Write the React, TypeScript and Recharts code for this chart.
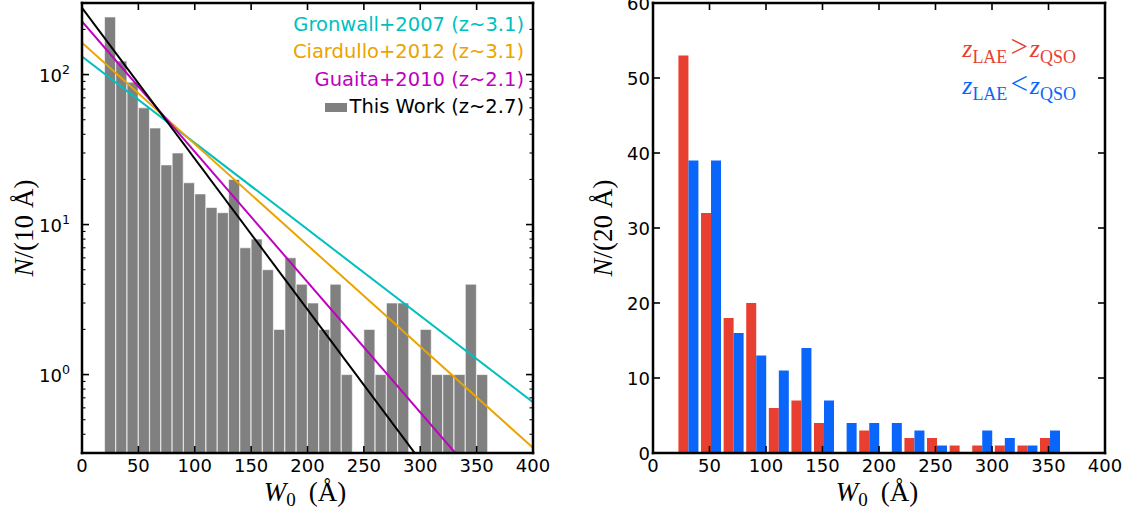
import React from 'react';
import { ComposedChart, Bar, Line, XAxis, YAxis, Legend } from 'recharts';

// ---------- Left panel data ----------
const binCenters10 = [25, 35, 45, 55, 65, 75, 85, 95, 105, 115, 125, 135, 145, 155, 165, 175, 185, 195, 205, 215, 225, 235, 245, 255, 265, 275, 285, 295, 305, 315, 325, 335, 345, 355];
const thisWorkCounts = [242, 123, 89, 60, 44, 25, 30, 19, 16, 13, 12, 20, 7, 8, 5, 2, 6, 4, 3, 2, 4, 1, 0, 2, 1, 3, 3, 0, 2, 1, 1, 1, 4, 1];
const lineEnds = [0, 400];
const gronwallLine = [132, 0.654];
const ciardulloLine = [163, 0.325];
const guaitaLine = [226, 0.0757];
const thisWorkFit = [279, 0.0264];

const legendNames = ['Gronwall+2007 (z~3.1)', 'Ciardullo+2012 (z~3.1)', 'Guaita+2010 (z~2.1)'];
const legendColors = ['#00bfbf', '#eaa400', '#bf00bf'];
const thisWorkName = 'This Work (z~2.7)';

const xTicks = [0, 50, 100, 150, 200, 250, 300, 350, 400];
const logTicks = [0.4, 0.5, 0.6, 0.7, 0.8, 0.9, 1, 2, 3, 4, 5, 6, 7, 8, 9, 10, 20, 30, 40, 50, 60, 70, 80, 90, 100, 200, 300];

// ---------- Right panel data ----------
const binCenters20 = [31, 51, 71, 91, 111, 131, 151, 171, 191, 211, 231, 251, 271, 291, 311, 331, 351];
const countsAbove = [53, 32, 18, 20, 6, 7, 4, 0, 3, 0, 2, 2, 1, 1, 1, 1, 2];
const countsBelow = [39, 39, 16, 13, 11, 14, 7, 4, 4, 4, 3, 1, 0, 3, 2, 1, 3];
const linTicks = [0, 10, 20, 30, 40, 50, 60];

const redColor = '#e83f30';
const blueColor = '#0a66fb';

const leftData = [
  { w: lineEnds[0], gronwall: gronwallLine[0], ciardullo: ciardulloLine[0], guaita: guaitaLine[0], fit: thisWorkFit[0] },
  ...binCenters10.map((c, i) => ({ w: c, count: thisWorkCounts[i] > 0 ? thisWorkCounts[i] : null })),
  { w: lineEnds[1], gronwall: gronwallLine[1], ciardullo: ciardulloLine[1], guaita: guaitaLine[1], fit: thisWorkFit[1] },
];

const rightData = binCenters20.map((c, i) => ({ w: c, above: countsAbove[i], below: countsBelow[i] }));

const TICK_FONT = '"DejaVu Sans", sans-serif';
const MATH_FONT = '"Liberation Serif", "DejaVu Serif", serif';

const isMajorLog = (v: number) => Math.abs(Math.log10(v) - Math.round(Math.log10(v))) < 1e-6;

const LogLeftTick = (props: any) => {
  const { x, y, payload } = props;
  const v = payload.value;
  const major = isMajorLog(v);
  const exp = Math.round(Math.log10(v));
  return (
    <g>
      <line x1={x} x2={x + (major ? 7 : 3.5)} y1={y} y2={y} stroke="#000" strokeWidth={major ? 1.6 : 1.1} />
      {major && (
        <text x={x - 12} y={y + 7.5} textAnchor="end" fontFamily={TICK_FONT} fontSize={18} fill="#000">
          10<tspan dy={-8} fontSize={12.6}>{exp}</tspan>
        </text>
      )}
    </g>
  );
};

const LogRightTick = (props: any) => {
  const { x, y, payload } = props;
  const major = isMajorLog(payload.value);
  return <line x1={x} x2={x - (major ? 7 : 3.5)} y1={y} y2={y} stroke="#000" strokeWidth={major ? 1.6 : 1.1} />;
};

const LinLeftTick = (props: any) => {
  const { x, y, payload } = props;
  return (
    <g>
      <line x1={x} x2={x + 7} y1={y} y2={y} stroke="#000" strokeWidth={1.6} />
      <text x={x - 3} y={y + 6.5} textAnchor="end" fontFamily={TICK_FONT} fontSize={18} fill="#000">
        {payload.value}
      </text>
    </g>
  );
};

const LinRightTick = (props: any) => {
  const { x, y } = props;
  return <line x1={x} x2={x - 7} y1={y} y2={y} stroke="#000" strokeWidth={1.6} />;
};

const BottomTick = (props: any) => {
  const { x, y, payload } = props;
  return (
    <g>
      <line x1={x} x2={x} y1={y} y2={y - 7} stroke="#000" strokeWidth={1.6} />
      <text x={x} y={y + 19} textAnchor="middle" fontFamily={TICK_FONT} fontSize={18} fill="#000">
        {payload.value}
      </text>
    </g>
  );
};

const TopTick = (props: any) => {
  const { x, y } = props;
  return <line x1={x} x2={x} y1={y} y2={y + 7} stroke="#000" strokeWidth={1.6} />;
};

const frameLine = { stroke: '#000', strokeWidth: 2.5, strokeLinecap: 'square' as const };

const LeftLegend = () => (
  <div style={{ fontFamily: TICK_FONT, fontSize: 19.5, lineHeight: '27.3px', textAlign: 'right', whiteSpace: 'nowrap' }}>
    {legendNames.map((n, i) => (
      <div key={n} style={{ color: legendColors[i] }}>{n}</div>
    ))}
    <div style={{ color: '#000' }}>
      <span style={{ display: 'inline-block', width: 22, height: 9, background: '#808080', marginRight: 3, verticalAlign: 'middle' }} />
      {thisWorkName}
    </div>
  </div>
);

const subStyle: React.CSSProperties = { fontSize: 18, position: 'relative', top: 6, lineHeight: 0 };

const ZRow = ({ color, rel }: { color: string; rel: string }) => (
  <div style={{ color, fontFamily: MATH_FONT, fontSize: 26, lineHeight: '37px', height: 37, whiteSpace: 'nowrap' }}>
    <i>z</i><span style={subStyle}>LAE</span>
    <span style={{ margin: '0 2px 0 3px', fontSize: 31, lineHeight: 0 }}>{rel}</span>
    <i>z</i><span style={subStyle}>QSO</span>
  </div>
);

const RightLegend = () => (
  <div style={{ textAlign: 'right' }}>
    <ZRow color={redColor} rel=">" />
    <ZRow color={blueColor} rel="<" />
  </div>
);

const XTitle = ({ cx }: { cx: number }) => (
  <text x={cx} y={501} textAnchor="middle" fontFamily={MATH_FONT} fontSize={27} fill="#000">
    <tspan fontStyle="italic">W</tspan>
    <tspan fontSize={19} dy={5}>0</tspan>
    <tspan dy={-5} dx={13}>(Å)</tspan>
  </text>
);

const YTitle = ({ x, y, bin }: { x: number; y: number; bin: string }) => (
  <text x={x} y={y} transform={`rotate(-90, ${x}, ${y})`} textAnchor="middle" fontFamily={MATH_FONT} fontSize={27} fill="#000">
    <tspan fontStyle="italic">N</tspan>
    <tspan>{`/(${bin}`}</tspan>
    <tspan dx={7}>Å)</tspan>
  </text>
);

export default function App() {
  return (
    <div style={{ position: 'absolute', left: 0, top: 0, width: 1139, height: 520, background: '#fff' }}>
      <div style={{ position: 'absolute', left: 0, top: 0 }}>
        <ComposedChart width={570} height={520} data={leftData} margin={{ top: 2, right: 36, bottom: 0, left: 0 }} barCategoryGap={0} barGap={0}>
          <XAxis xAxisId="b" dataKey="w" type="number" domain={[0, 400]} ticks={xTicks} interval={0} height={67} allowDataOverflow
            axisLine={frameLine} tickLine={false} tickSize={0} tickMargin={0} tick={<BottomTick />} />
          <XAxis xAxisId="t" orientation="top" dataKey="w" type="number" domain={[0, 400]} ticks={xTicks} interval={0} height={1} allowDataOverflow
            axisLine={frameLine} tickLine={false} tickSize={0} tickMargin={0} tick={<TopTick />} />
          <YAxis yAxisId="l" scale="log" type="number" domain={[0.3, 300]} ticks={logTicks} interval={0} width={82} allowDataOverflow
            axisLine={frameLine} tickLine={false} tickSize={0} tickMargin={0} tick={<LogLeftTick />} />
          <YAxis yAxisId="r" orientation="right" scale="log" type="number" domain={[0.3, 300]} ticks={logTicks} interval={0} width={1} allowDataOverflow
            axisLine={frameLine} tickLine={false} tickSize={0} tickMargin={0} tick={<LogRightTick />} />
          <Bar xAxisId="b" yAxisId="l" dataKey="count" fill="#808080" stroke="#ffffff" strokeWidth={0.6} isAnimationActive={false} />
          <Line xAxisId="b" yAxisId="l" dataKey="gronwall" stroke={legendColors[0]} strokeWidth={2} dot={false} connectNulls isAnimationActive={false} />
          <Line xAxisId="b" yAxisId="l" dataKey="ciardullo" stroke={legendColors[1]} strokeWidth={2} dot={false} connectNulls isAnimationActive={false} />
          <Line xAxisId="b" yAxisId="l" dataKey="guaita" stroke={legendColors[2]} strokeWidth={2} dot={false} connectNulls isAnimationActive={false} />
          <Line xAxisId="b" yAxisId="l" dataKey="fit" stroke="#000" strokeWidth={2} dot={false} connectNulls isAnimationActive={false} />
          <Legend layout="vertical" align="center" verticalAlign="middle" content={<LeftLegend />}
            wrapperStyle={{ left: 280, top: 11, width: 244 }} />
          <XTitle cx={305} />
          <YTitle x={33} y={228} bin="10" />
        </ComposedChart>
      </div>
      <div style={{ position: 'absolute', left: 575, top: 0 }}>
        <ComposedChart width={564} height={520} data={rightData} margin={{ top: 2, right: 33, bottom: 0, left: 0 }} barCategoryGap="7.5%" barGap={0}>
          <XAxis xAxisId="b" dataKey="w" type="number" domain={[0, 400]} ticks={xTicks} interval={0} height={67} allowDataOverflow
            axisLine={frameLine} tickLine={false} tickSize={0} tickMargin={0} tick={<BottomTick />} />
          <XAxis xAxisId="t" orientation="top" dataKey="w" type="number" domain={[0, 400]} ticks={xTicks} interval={0} height={1} allowDataOverflow
            axisLine={frameLine} tickLine={false} tickSize={0} tickMargin={0} tick={<TopTick />} />
          <YAxis yAxisId="l" type="number" domain={[0, 60]} ticks={linTicks} interval={0} width={78} allowDataOverflow
            axisLine={frameLine} tickLine={false} tickSize={0} tickMargin={0} tick={<LinLeftTick />} />
          <YAxis yAxisId="r" orientation="right" type="number" domain={[0, 60]} ticks={linTicks} interval={0} width={1} allowDataOverflow
            axisLine={frameLine} tickLine={false} tickSize={0} tickMargin={0} tick={<LinRightTick />} />
          <Bar xAxisId="b" yAxisId="l" dataKey="above" fill={redColor} isAnimationActive={false} />
          <Bar xAxisId="b" yAxisId="l" dataKey="below" fill={blueColor} isAnimationActive={false} />
          <Legend layout="vertical" align="center" verticalAlign="middle" content={<RightLegend />}
            wrapperStyle={{ left: 340, top: 30, width: 161 }} />
          <XTitle cx={302} />
          <YTitle x={37} y={228} bin="20" />
        </ComposedChart>
      </div>
    </div>
  );
}
